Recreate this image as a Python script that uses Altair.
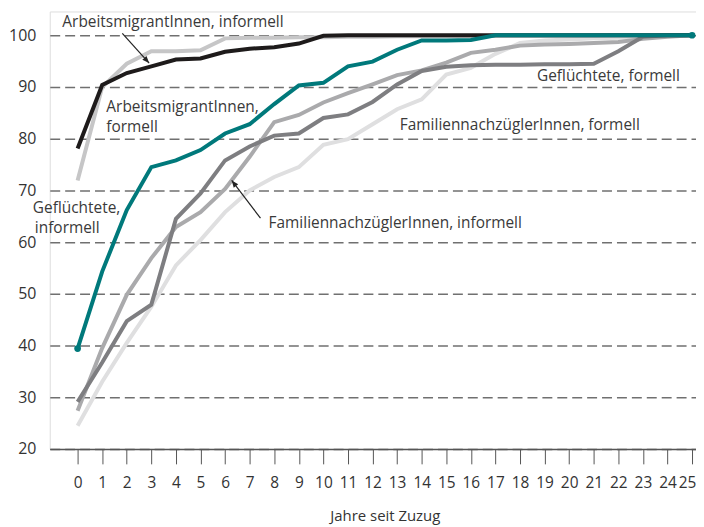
import altair as alt
import pandas as pd

years = list(range(26))

arb_informell = [78.1, 90.4, 92.7, 94.0, 95.3, 95.5, 96.8, 97.4, 97.7, 98.4, 99.9, 100, 100,
                 100, 100, 100, 100, 100, 100, 100, 100, 100, 100, 100, 100, 100]
arb_formell = [71.9, 90.0, 94.5, 96.9, 96.9, 97.1, 99.4, 99.5, 99.5, 99.6, 99.6, 99.7, 99.7,
               99.8, 99.8, 99.8, 99.8, 99.9, 99.9, 99.9, 99.9, 99.9, 100, 100, 100, 100]
gef_informell = [39.4, 54.3, 66.2, 74.5, 75.8, 77.8, 81.0, 82.8, 86.7, 90.3, 90.8, 94.0, 94.9,
                 97.2, 99.0, 99.0, 99.1, 100, 100, 100, 100, 100, 100, 100, 100, 100]
gef_formell = [29.1, 36.7, 44.7, 47.9, 64.5, 69.4, 75.8, 78.5, 80.6, 81.0, 84.0, 84.7, 87.1,
               90.5, 93.1, 93.9, 94.2, 94.3, 94.3, 94.4, 94.4, 94.5, 96.9, 99.7, 100, 100]
fam_informell = [27.4, 39.5, 49.8, 56.9, 62.9, 65.8, 70.3, 76.5, 83.2, 84.6, 87.0, 88.8, 90.5,
                 92.3, 93.2, 94.7, 96.6, 97.2, 98.0, 98.2, 98.3, 98.5, 98.7, 99.3, 99.7, 100]
fam_formell = [24.5, 33.0, 40.5, 47.5, 55.5, 60.4, 65.8, 70.0, 72.6, 74.5, 78.8, 79.9, 82.8,
               85.7, 87.6, 92.4, 93.7, 96.4, 98.5, 99.0, 99.2, 99.4, 99.5, 99.7, 99.9, 100]

# draw order (back to front) with colours
series = [
    ("FamiliennachzüglerInnen, formell", fam_formell, "#dfdfe0"),
    ("FamiliennachzüglerInnen, informell", fam_informell, "#aaaaac"),
    ("ArbeitsmigrantInnen, formell", arb_formell, "#c6c6c7"),
    ("Geflüchtete, formell", gef_formell, "#7e7e81"),
    ("ArbeitsmigrantInnen, informell", arb_informell, "#1e1b1b"),
    ("Geflüchtete, informell", gef_informell, "#00797b"),
]

label_text = ["ArbeitsmigrantInnen, informell", "ArbeitsmigrantInnen,", "formell",
              "Geflüchtete,", "informell", "FamiliennachzüglerInnen, informell",
              "Geflüchtete, formell", "FamiliennachzüglerInnen, formell"]
label_x = [-0.62, 1.17, 1.17, -1.82, -1.74, 7.77, 18.69, 13.11]
label_y = [101.54, 85.19, 81.35, 65.63, 61.73, 62.69, 91.15, 81.73]

arrow_x = [1.82, 7.44]
arrow_y = [100.38, 64.62]
arrow_x2 = [2.91, 6.27]
arrow_y2 = [94.62, 71.92]
arrow_angle = [138, 322.7]

y_ticks = [20, 30, 40, 50, 60, 70, 80, 90, 100]

FONT = "Open Sans"
xscale = alt.Scale(domain=[-1.133, 25.16], nice=False, zero=False)
yscale = alt.Scale(domain=[20, 104.6], nice=False, zero=False)

xaxis = alt.Axis(values=years, grid=False, domain=True,
                 domainColor="#555555", domainWidth=1.5,
                 tickColor="#555555", tickSize=15, tickWidth=1,
                 labelFontSize=15.5, labelFont=FONT, labelColor="#333333",
                 labelPadding=12, labelFlush=False, labelOverlap=False,
                 labelOffset={"condition": {"test": "datum.value == 25", "value": -5},
                              "value": 0},
                 titleFont=FONT, titleFontSize=15, titleFontWeight="normal",
                 titleColor="#333333", titleX=337, titleY=72,
                 titleBaseline="alphabetic", titleAlign="center")
yaxis = alt.Axis(values=y_ticks, domain=False, ticks=False,
                 grid=True, gridColor="#707070", gridDash=[10, 5],
                 gridWidth=1.5, labelFontSize=16, labelFont=FONT,
                 labelColor="#333333", labelPadding=14)

X_TITLE = "Jahre seit Zuzug"


def xq(field):
    return alt.X(field, scale=xscale, axis=xaxis, title=X_TITLE)


def yq(field):
    return alt.Y(field, scale=yscale, axis=yaxis, title=None)


layers = []
for name, vals, col in series:
    df = pd.DataFrame({"Jahr": years, "Wert": vals, "Serie": name})
    layers.append(
        alt.Chart(df).mark_line(strokeWidth=4, color=col, strokeJoin="miter",
                                strokeCap="butt").encode(x=xq("Jahr:Q"), y=yq("Wert:Q"))
    )

# end dots on the teal line
teal_df = pd.DataFrame({"Jahr": [years[0], years[-1]],
                        "Wert": [gef_informell[0], gef_informell[-1]]})
layers.append(alt.Chart(teal_df).mark_point(filled=True, size=45, color="#00797b",
                                             opacity=1).encode(
    x=xq("Jahr:Q"), y=yq("Wert:Q")))

lab_df = pd.DataFrame({"t": label_text, "x": label_x, "y": label_y})
layers.append(alt.Chart(lab_df).mark_text(align="left", baseline="alphabetic",
                                          font=FONT, fontSize=15.5, color="#3a3a3a").encode(
    x=xq("x:Q"), y=yq("y:Q"), text="t:N"))

arr_df = pd.DataFrame({"x": arrow_x, "y": arrow_y, "x2": arrow_x2, "y2": arrow_y2,
                       "a": arrow_angle})
layers.append(alt.Chart(arr_df).mark_rule(color="#222222", strokeWidth=1.2).encode(
    x=xq("x:Q"), y=yq("y:Q"), x2="x2:Q", y2="y2:Q"))
layers.append(alt.Chart(arr_df).mark_point(
    shape="M0,0L0.4,1L-0.4,1Z", filled=True, size=200, color="#222222", opacity=1).encode(
    x=xq("x2:Q"), y=yq("y2:Q"),
    angle=alt.Angle("a:Q", scale=None)))

chart = alt.layer(*layers).properties(
    width=650, height=440,
    autosize=alt.AutoSizeParams(type="none"),
    padding={"left": 42, "top": 2, "right": 0, "bottom": 75},
).configure_view(stroke=None).configure(background="white")

chart.save("out.html", embed_options={"renderer": "svg", "actions": False})
